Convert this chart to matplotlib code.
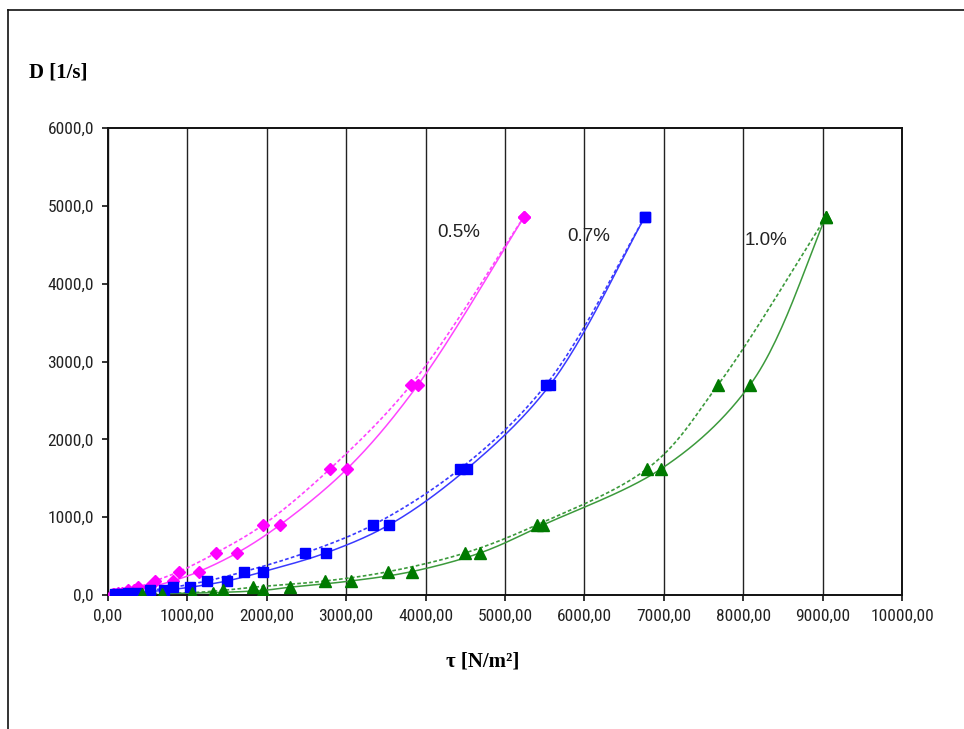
import matplotlib
matplotlib.use('Agg')
import matplotlib.pyplot as plt
import numpy as np
from matplotlib import font_manager
from matplotlib.lines import Line2D
from matplotlib.ticker import FuncFormatter, MultipleLocator

# shear rate D [1/s], same steps for every sample
D = [18, 30, 60, 100, 180, 300, 540, 900, 1620, 2700, 4860]

# shear stress tau [N/m2], increasing (up) and decreasing (down) run
tau_05_up = [60, 130, 250, 378, 592, 894, 1360, 1952, 2796, 3816, 5240]
tau_05_down = [80, 180, 330, 520, 815, 1142, 1625, 2166, 3010, 3904, 5240]
tau_07_up = [88, 250, 529, 822, 1243, 1713, 2481, 3338, 4433, 5516, 6763]
tau_07_down = [150, 361, 700, 1033, 1495, 1956, 2742, 3539, 4521, 5567, 6763]
tau_10_up = [424, 1054, 1452, 1830, 2733, 3530, 4496, 5399, 6788, 7683, 9043]
tau_10_down = [675, 1322, 1956, 2292, 3056, 3823, 4685, 5480, 6965, 8086, 9043]

labels = ['0.5%', '0.7%', '1.0%']
label_pos = [(4150, 4600), (5780, 4550), (8020, 4500)]

# narrow face for tick labels if one is installed
names = {f.name for f in font_manager.fontManager.ttflist}
tick_family = 'DejaVu Sans'
for cand in ['Liberation Sans Narrow', 'Roboto Condensed', 'Open Sans Condensed',
             'DejaVu Sans Condensed', 'Arial Narrow']:
    if cand in names:
        tick_family = cand
        break


def smooth(x, y, n=30, alpha=0.5):
    # catmull-rom through the points, in axis-normalised units
    p = np.column_stack([np.asarray(x, float) / 10000, np.asarray(y, float) / 6000])
    p = np.vstack([p[0], p, p[-1] + (p[-1] - p[-2]) * 0.3])
    out = []
    for i in range(1, len(p) - 2):
        p0, p1, p2, p3 = p[i - 1], p[i], p[i + 1], p[i + 2]
        t0 = 0.0
        t1 = t0 + np.linalg.norm(p1 - p0) ** alpha + 1e-6
        t2 = t1 + np.linalg.norm(p2 - p1) ** alpha + 1e-6
        t3 = t2 + np.linalg.norm(p3 - p2) ** alpha + 1e-6
        t = np.linspace(t1, t2, n)[:, None]
        a1 = (t1 - t) / (t1 - t0) * p0 + (t - t0) / (t1 - t0) * p1
        a2 = (t2 - t) / (t2 - t1) * p1 + (t - t1) / (t2 - t1) * p2
        a3 = (t3 - t) / (t3 - t2) * p2 + (t - t2) / (t3 - t2) * p3
        b1 = (t2 - t) / (t2 - t0) * a1 + (t - t0) / (t2 - t0) * a2
        b2 = (t3 - t) / (t3 - t1) * a2 + (t - t1) / (t3 - t1) * a3
        c = (t2 - t) / (t2 - t1) * b1 + (t - t1) / (t2 - t1) * b2
        out.append(c)
    out = np.vstack(out)
    return out[:, 0] * 10000, out[:, 1] * 6000


fig = plt.figure(figsize=(9.64, 7.29), dpi=100)
ax = fig.add_axes([0.112, 0.1838, 0.8237, 0.6406])

series = [
    (tau_05_up, tau_05_down, '#ff00ff', '#ff44ff', 'D', 6.5),
    (tau_07_up, tau_07_down, '#0000ff', '#3a3aff', 's', 7.5),
    (tau_10_up, tau_10_down, '#007a00', '#3c9a3c', '^', 8),
]

for up, down, mc, lc, mk, ms in series:
    xs, ys = smooth(up, D)
    ax.plot(xs, ys, color=lc, lw=1.2, ls=(0, (2.2, 1.4)), zorder=3)
    xs, ys = smooth(down, D)
    ax.plot(xs, ys, color=lc, lw=1.1, zorder=3)
    ax.plot(up, D, ls='none', marker=mk, ms=ms, color=mc, mec=mc, zorder=4)
    ax.plot(down, D, ls='none', marker=mk, ms=ms, color=mc, mec=mc, zorder=4)

for lab, (lx, ly) in zip(labels, label_pos):
    ax.text(lx, ly, lab, fontsize=13.5, color='#222222', family='Liberation Sans')

ax.set_xlim(0, 10000)
ax.set_ylim(0, 6000)
ax.xaxis.set_major_locator(MultipleLocator(1000))
ax.yaxis.set_major_locator(MultipleLocator(1000))
ax.xaxis.set_major_formatter(FuncFormatter(lambda v, p: f'{v:.2f}'.replace('.', ',')))
ax.yaxis.set_major_formatter(FuncFormatter(lambda v, p: f'{v:.1f}'.replace('.', ',')))
ax.grid(axis='x', color='#222222', lw=1.0)
ax.set_axisbelow(True)
for s in ax.spines.values():
    s.set_linewidth(1.4)
    s.set_color('#111111')
ax.tick_params(direction='out', length=4, width=1.2, color='#111111',
               labelsize=12.5, labelcolor='#222222', pad=6)
for t in ax.get_xticklabels() + ax.get_yticklabels():
    t.set_family(tick_family)
    if tick_family == 'DejaVu Sans':
        t.set_fontsize(9.5)

fig.text(0.06, 0.901, 'D [1/s]', fontsize=15, fontweight='bold',
         family='Liberation Serif', ha='center', va='center')
fig.text(0.501, 0.092, 'τ [N/m²]', fontsize=15, fontweight='bold',
         family='Liberation Serif', ha='center', va='center')

# outer frame, left and top edges
fig.add_artist(Line2D([0.0083, 0.0083], [0.0, 0.986], transform=fig.transFigure,
                      color='#111111', lw=1.2))
fig.add_artist(Line2D([0.0083, 1.0], [0.986, 0.986], transform=fig.transFigure,
                      color='#111111', lw=1.2))

fig.savefig('out.png', dpi=100)
